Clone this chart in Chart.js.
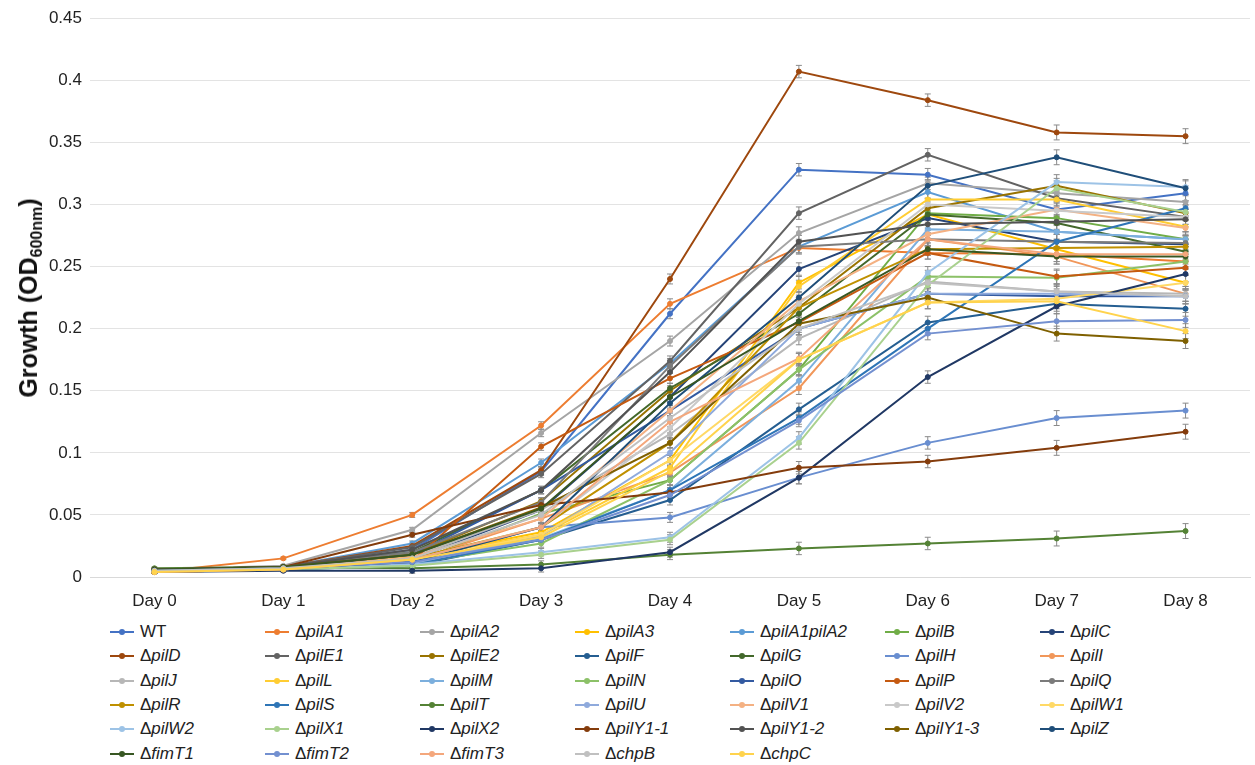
<!DOCTYPE html>
<html>
<head>
<meta charset="utf-8">
<script src="https://cdn.jsdelivr.net/npm/chart.js@4"></script>
<style>
  body { margin: 0; background: #fff; font-family: "Liberation Sans", Arial, sans-serif; }
  #wrap { position: relative; width: 1255px; height: 765px; }
  #growthChart { position: absolute; left: 0; top: 0; }
  #ytitle {
    position: absolute; left: 30px; top: 298px;
    transform: translate(-50%, -50%) rotate(-90deg);
    font-weight: bold; font-size: 25px; color: #111; white-space: nowrap;
  }
  #ytitle sub { font-size: 16px; vertical-align: -5px; }
  .item { position: absolute; font-size: 17px; color: #222; white-space: nowrap; height: 20px; line-height: 20px; }
  .item i { font-style: italic; }
  .swatch { display: inline-block; position: relative; width: 24px; height: 20px; vertical-align: top; margin-right: 6px; }
  .swatch .ln { position: absolute; left: 0; top: 9px; width: 24px; height: 2px; }
  .swatch .dot { position: absolute; left: 9px; top: 7px; width: 6px; height: 6px; border-radius: 50%; }
</style>
</head>
<body>
<div id="wrap">
  <canvas id="growthChart" width="1255" height="610"></canvas>
  <div id="ytitle">Growth (OD<sub>600nm</sub>)</div>
  <div id="legend"></div>
</div>
<script>
const days = ['Day 0', 'Day 1', 'Day 2', 'Day 3', 'Day 4', 'Day 5', 'Day 6', 'Day 7', 'Day 8'];

// OD600 readings per strain, one value per day
const wt        = [0.005, 0.008, 0.022, 0.085, 0.212, 0.328, 0.324, 0.296, 0.309];
const pilA1     = [0.004, 0.015, 0.050, 0.122, 0.220, 0.265, 0.261, 0.260, 0.254];
const pilA2     = [0.006, 0.009, 0.038, 0.116, 0.190, 0.277, 0.317, 0.309, 0.302];
const pilA3     = [0.004, 0.007, 0.016, 0.036, 0.094, 0.237, 0.292, 0.264, 0.237];
const pilA1A2   = [0.005, 0.008, 0.027, 0.092, 0.172, 0.266, 0.310, 0.278, 0.272];
const pilB      = [0.006, 0.008, 0.012, 0.051, 0.078, 0.167, 0.293, 0.289, 0.272];
const pilC      = [0.005, 0.007, 0.014, 0.054, 0.145, 0.248, 0.289, 0.270, 0.268];
const pilD      = [0.005, 0.008, 0.025, 0.086, 0.240, 0.407, 0.384, 0.358, 0.355];
const pilE1     = [0.006, 0.008, 0.024, 0.083, 0.174, 0.293, 0.340, 0.305, 0.290];
const pilE2     = [0.005, 0.008, 0.018, 0.061, 0.150, 0.217, 0.297, 0.315, 0.293];
const pilF      = [0.004, 0.006, 0.009, 0.030, 0.062, 0.135, 0.205, 0.220, 0.216];
const pilG      = [0.006, 0.008, 0.020, 0.070, 0.152, 0.212, 0.292, 0.285, 0.262];
const pilH      = [0.005, 0.007, 0.012, 0.040, 0.048, 0.080, 0.108, 0.128, 0.134];
const pilI      = [0.004, 0.006, 0.013, 0.047, 0.084, 0.152, 0.272, 0.258, 0.228];
const pilJ      = [0.005, 0.008, 0.016, 0.054, 0.115, 0.192, 0.238, 0.230, 0.228];
const pilL      = [0.004, 0.007, 0.016, 0.034, 0.088, 0.234, 0.304, 0.304, 0.282];
const pilM      = [0.005, 0.007, 0.013, 0.031, 0.070, 0.158, 0.280, 0.278, 0.272];
const pilN      = [0.005, 0.007, 0.011, 0.027, 0.078, 0.167, 0.242, 0.241, 0.254];
const pilO      = [0.005, 0.007, 0.018, 0.070, 0.134, 0.200, 0.228, 0.226, 0.226];
const pilP      = [0.004, 0.006, 0.013, 0.105, 0.160, 0.205, 0.261, 0.242, 0.249];
const pilQ      = [0.006, 0.008, 0.020, 0.060, 0.170, 0.266, 0.272, 0.270, 0.269];
const pilR      = [0.004, 0.007, 0.015, 0.040, 0.108, 0.217, 0.264, 0.265, 0.266];
const pilS      = [0.005, 0.007, 0.010, 0.030, 0.070, 0.128, 0.200, 0.270, 0.297];
const pilT      = [0.007, 0.008, 0.007, 0.010, 0.018, 0.023, 0.027, 0.031, 0.037];
const pilU      = [0.005, 0.007, 0.011, 0.033, 0.100, 0.200, 0.228, 0.228, 0.226];
const pilV1     = [0.004, 0.006, 0.016, 0.047, 0.134, 0.222, 0.276, 0.296, 0.281];
const pilV2     = [0.005, 0.007, 0.014, 0.040, 0.120, 0.220, 0.300, 0.295, 0.290];
const pilW1     = [0.004, 0.006, 0.013, 0.034, 0.094, 0.175, 0.221, 0.224, 0.237];
const pilW2     = [0.005, 0.006, 0.010, 0.020, 0.032, 0.112, 0.245, 0.318, 0.314];
const pilX1     = [0.005, 0.006, 0.009, 0.018, 0.030, 0.108, 0.235, 0.313, 0.294];
const pilX2     = [0.004, 0.005, 0.005, 0.007, 0.020, 0.080, 0.161, 0.218, 0.244];
const pilY1_1   = [0.006, 0.008, 0.034, 0.058, 0.068, 0.088, 0.093, 0.104, 0.117];
const pilY1_2   = [0.006, 0.008, 0.022, 0.070, 0.165, 0.270, 0.284, 0.286, 0.288];
const pilY1_3   = [0.005, 0.008, 0.018, 0.056, 0.108, 0.204, 0.225, 0.196, 0.190];
const pilZ      = [0.005, 0.007, 0.012, 0.040, 0.140, 0.225, 0.315, 0.338, 0.313];
const fimT1     = [0.006, 0.008, 0.018, 0.055, 0.145, 0.206, 0.264, 0.258, 0.258];
const fimT2     = [0.005, 0.007, 0.012, 0.030, 0.066, 0.126, 0.196, 0.206, 0.207];
const fimT3     = [0.004, 0.006, 0.014, 0.040, 0.125, 0.176, 0.272, 0.260, 0.260];
const chpB      = [0.005, 0.007, 0.015, 0.050, 0.128, 0.200, 0.237, 0.230, 0.226];
const chpC      = [0.004, 0.006, 0.014, 0.032, 0.085, 0.175, 0.221, 0.222, 0.198];

// typical standard deviation for each day
const errDay = [0.001, 0.001, 0.002, 0.003, 0.004, 0.005, 0.005, 0.006, 0.006];

const names = ['WT', 'pilA1', 'pilA2', 'pilA3', 'pilA1pilA2', 'pilB', 'pilC', 'pilD', 'pilE1', 'pilE2',
  'pilF', 'pilG', 'pilH', 'pilI', 'pilJ', 'pilL', 'pilM', 'pilN', 'pilO', 'pilP', 'pilQ', 'pilR', 'pilS',
  'pilT', 'pilU', 'pilV1', 'pilV2', 'pilW1', 'pilW2', 'pilX1', 'pilX2', 'pilY1-1', 'pilY1-2', 'pilY1-3',
  'pilZ', 'fimT1', 'fimT2', 'fimT3', 'chpB', 'chpC'];

const values = [wt, pilA1, pilA2, pilA3, pilA1A2, pilB, pilC, pilD, pilE1, pilE2, pilF, pilG, pilH, pilI,
  pilJ, pilL, pilM, pilN, pilO, pilP, pilQ, pilR, pilS, pilT, pilU, pilV1, pilV2, pilW1, pilW2, pilX1,
  pilX2, pilY1_1, pilY1_2, pilY1_3, pilZ, fimT1, fimT2, fimT3, chpB, chpC];

const colors = ['#4472C4', '#ED7D31', '#A5A5A5', '#FFC000', '#5B9BD5', '#70AD47',
  '#264478', '#9E480E', '#636363', '#997300', '#255E91', '#43682B',
  '#698ED0', '#F1975A', '#B7B7B7', '#FFCD33', '#7CAFDD', '#8CC168',
  '#335AA1', '#C55A11', '#7B7B7B', '#BF9000', '#2E75B6', '#548235',
  '#8FAADC', '#F4B183', '#C9C9C9', '#FFD966', '#9DC3E6', '#A9D18E',
  '#203864', '#843C0C', '#525252', '#7F6000', '#1F4E79', '#385723',
  '#7390D0', '#F4A77C', '#C0C0C0', '#FFD34D'];

const datasets = names.map((n, i) => ({
  label: n === 'WT' ? n : '\u0394' + n,
  data: values[i],
  borderColor: colors[i],
  backgroundColor: colors[i],
  borderWidth: 2,
  pointRadius: 2.5,
  pointBorderWidth: 1,
  tension: 0,
  order: names.length - i
}));

// gray error bars under the lines
const errorBars = {
  id: 'errorBars',
  beforeDatasetsDraw(chart) {
    const ctx = chart.ctx;
    const y = chart.scales.y;
    ctx.save();
    ctx.strokeStyle = '#8a8a8a';
    ctx.lineWidth = 1;
    chart.data.datasets.forEach((ds, i) => {
      const meta = chart.getDatasetMeta(i);
      meta.data.forEach((pt, j) => {
        const top = y.getPixelForValue(ds.data[j] + errDay[j]);
        const bot = y.getPixelForValue(Math.max(0, ds.data[j] - errDay[j]));
        ctx.beginPath();
        ctx.moveTo(pt.x, top); ctx.lineTo(pt.x, bot);
        ctx.moveTo(pt.x - 3, top); ctx.lineTo(pt.x + 3, top);
        ctx.moveTo(pt.x - 3, bot); ctx.lineTo(pt.x + 3, bot);
        ctx.stroke();
      });
    });
    ctx.restore();
  }
};

const chart = new Chart(document.getElementById('growthChart'), {
  type: 'line',
  data: { labels: days, datasets: datasets },
  plugins: [errorBars],
  options: {
    responsive: false,
    animation: false,
    layout: { padding: { top: 16, right: 3 } },
    plugins: { legend: { display: false }, tooltip: { enabled: false } },
    scales: {
      x: {
        offset: true,
        grid: { display: false },
        border: { display: true, color: '#D9D9D9' },
        ticks: { color: '#222', font: { size: 17, family: 'Liberation Sans' }, padding: 6 },
        afterFit(scale) { scale.height = 33; }
      },
      y: {
        min: 0,
        max: 0.45,
        grid: { color: '#E3E3E3', drawTicks: false },
        border: { display: false },
        ticks: {
          stepSize: 0.05,
          color: '#222',
          padding: 8,
          font: { size: 17, family: 'Liberation Sans' },
          callback: v => String(+v.toFixed(2))
        },
        afterFit(scale) { scale.width = 90; }
      }
    }
  }
});

// legend laid out in 7 columns under the plot
const legend = document.getElementById('legend');
chart.data.datasets.forEach((ds, i) => {
  const col = i % 7, row = Math.floor(i / 7);
  const el = document.createElement('div');
  el.className = 'item';
  el.style.left = (110 + col * 155) + 'px';
  el.style.top = (622 + row * 24.3) + 'px';
  const text = names[i] === 'WT' ? 'WT' : '\u0394<i>' + names[i] + '</i>';
  el.innerHTML = '<span class="swatch"><span class="ln" style="background:' + ds.borderColor +
    '"></span><span class="dot" style="background:' + ds.borderColor + '"></span></span>' + text;
  legend.appendChild(el);
});
</script>
</body>
</html>
